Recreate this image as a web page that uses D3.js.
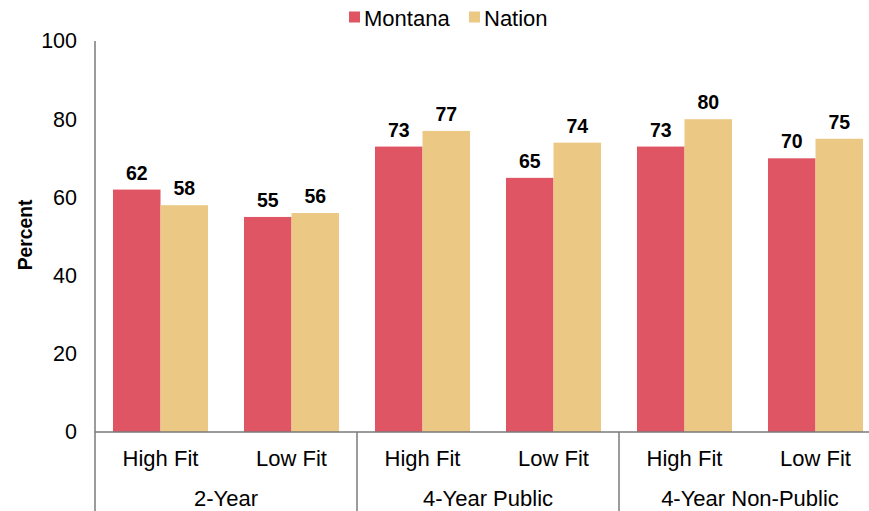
<!DOCTYPE html>
<html><head><meta charset="utf-8">
<script src="https://cdn.jsdelivr.net/npm/d3@7"></script>
<style>body{margin:0;background:#fff;}svg{display:block;font-family:"Liberation Sans",Arial,sans-serif;}</style>
</head><body>
<script>
const groups = ["2-Year", "4-Year Public", "4-Year Non-Public"];
const subcats = ["High Fit", "Low Fit"];
const seriesNames = ["Montana", "Nation"];
const montana = [62, 55, 73, 65, 73, 70];
const nation = [58, 56, 77, 74, 80, 75];
const yTicks = [0, 20, 40, 60, 80, 100];
const colors = ["#E05563", "#EBC884"];

const W = 869, H = 511;
const svg = d3.select("body").append("svg").attr("width", W).attr("height", H);

const left = 95, right = 881, y0 = 432, yTop = 41;
const cats = [];
groups.forEach(g => subcats.forEach(s => cats.push(g + "|" + s)));

const x = d3.scaleBand().domain(cats).range([left, right]).paddingInner(0).paddingOuter(0);
const xInner = d3.scaleBand().domain(seriesNames).range([0, x.bandwidth()]).paddingInner(0).paddingOuter(0.3785);
const y = d3.scaleLinear().domain([0, 100]).range([y0, yTop]);

// y axis labels
const yAxis = d3.axisLeft(y).tickValues(yTicks).tickSize(0).tickPadding(18);
const gy = svg.append("g").attr("transform", `translate(${left},0)`).call(yAxis);
gy.select(".domain").remove();
gy.selectAll("text").attr("font-size", 21.5).attr("fill", "#000").attr("font-family", "Liberation Sans, Arial, sans-serif");

// bars
const data = [];
cats.forEach((c, i) => {
  data.push({c, s: "Montana", v: montana[i]});
  data.push({c, s: "Nation", v: nation[i]});
});
svg.append("g").selectAll("rect").data(data).join("rect")
  .attr("x", d => x(d.c) + xInner(d.s))
  .attr("width", xInner.bandwidth())
  .attr("y", d => y(d.v))
  .attr("height", d => y(0) - y(d.v))
  .attr("fill", d => colors[seriesNames.indexOf(d.s)]);

svg.append("g").selectAll("text").data(data).join("text")
  .attr("x", d => x(d.c) + xInner(d.s) + xInner.bandwidth() / 2)
  .attr("y", d => y(d.v) - 10)
  .attr("text-anchor", "middle")
  .attr("font-size", 19.5).attr("font-weight", "bold")
  .text(d => d.v);

// axes lines
const axisColor = "#7a7a7a";
svg.append("line").attr("x1", left).attr("x2", left).attr("y1", yTop).attr("y2", H).attr("stroke", axisColor).attr("stroke-width", 1.5);
svg.append("line").attr("x1", left).attr("x2", W).attr("y1", y0).attr("y2", y0).attr("stroke", axisColor).attr("stroke-width", 1.5);
groups.forEach((g, gi) => {
  if (gi === 0) return;
  const xx = x(g + "|" + subcats[0]);
  svg.append("line").attr("x1", xx).attr("x2", xx).attr("y1", y0).attr("y2", H).attr("stroke", axisColor).attr("stroke-width", 1.5);
});

// x labels
svg.append("g").selectAll("text").data(cats).join("text")
  .attr("x", d => x(d) + x.bandwidth() / 2)
  .attr("y", 466)
  .attr("text-anchor", "middle").attr("font-size", 22)
  .text(d => d.split("|")[1]);
svg.append("g").selectAll("text").data(groups).join("text")
  .attr("x", g => x(g + "|" + subcats[0]) + x.bandwidth())
  .attr("y", 506)
  .attr("text-anchor", "middle").attr("font-size", 22)
  .text(g => g);

// y title
svg.append("text").attr("transform", "translate(32,235) rotate(-90)")
  .attr("text-anchor", "middle").attr("font-size", 19.3).attr("font-weight", "bold").text("Percent");

// legend
const legX = [349, 469];
seriesNames.forEach((s, i) => {
  svg.append("rect").attr("x", legX[i]).attr("y", 11.5).attr("width", 11).attr("height", 11).attr("fill", colors[i]);
  svg.append("text").attr("x", legX[i] + 15).attr("y", 26).attr("font-size", 22).text(s);
});
</script>
</body></html>
